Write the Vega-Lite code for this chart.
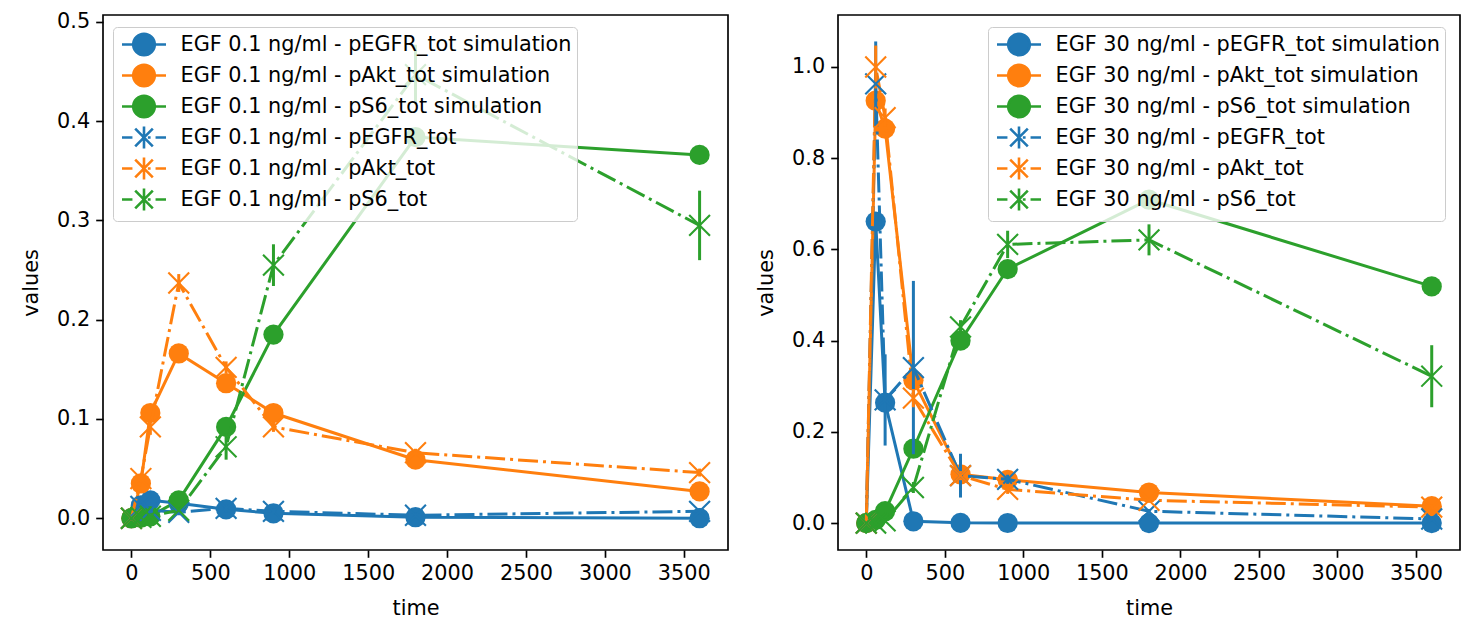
{
  "$schema": "https://vega.github.io/schema/vega-lite/v6.json",
  "background": "white",
  "padding": {"left": 19, "top": 10, "right": 10, "bottom": 5},
  "spacing": 25,
  "config": {
    "font": "DejaVu Sans",
    "view": {"stroke": "black", "strokeWidth": 1.67},
    "axis": {
      "grid": false,
      "domain": false,
      "tickColor": "black",
      "tickSize": 7.3,
      "tickWidth": 1.67,
      "labelFont": "DejaVu Sans",
      "labelFontSize": 20.8,
      "labelColor": "black",
      "labelPadding": 6,
      "titleFont": "DejaVu Sans",
      "titleFontSize": 20.8,
      "titleFontWeight": "normal",
      "titleColor": "black",
      "titlePadding": 15
    },
    "legend": {
      "orient": "none",
      "title": null,
      "labelFont": "DejaVu Sans",
      "labelFontSize": 20.8,
      "labelColor": "black",
      "labelLimit": 800,
      "padding": 5,
      "rowPadding": -2,
      "symbolSize": 484,
      "symbolStrokeWidth": 2.5,
      "symbolOffset": 13.5,
      "labelOffset": 24,
      "fillColor": "rgba(255,255,255,0.8)",
      "strokeColor": "#cccccc",
      "cornerRadius": 4
    }
  },
  "datasets": {
    "egf01": [
      {"k": "sim", "s": "EGF 0.1 ng/ml - pEGFR_tot simulation", "t": 0, "v": 0},
      {"k": "sim", "s": "EGF 0.1 ng/ml - pEGFR_tot simulation", "t": 60, "v": 0.013},
      {"k": "sim", "s": "EGF 0.1 ng/ml - pEGFR_tot simulation", "t": 120, "v": 0.018},
      {"k": "sim", "s": "EGF 0.1 ng/ml - pEGFR_tot simulation", "t": 300, "v": 0.015},
      {"k": "sim", "s": "EGF 0.1 ng/ml - pEGFR_tot simulation", "t": 600, "v": 0.009},
      {"k": "sim", "s": "EGF 0.1 ng/ml - pEGFR_tot simulation", "t": 900, "v": 0.005},
      {"k": "sim", "s": "EGF 0.1 ng/ml - pEGFR_tot simulation", "t": 1800, "v": 0.001},
      {"k": "sim", "s": "EGF 0.1 ng/ml - pEGFR_tot simulation", "t": 3600, "v": 0.0},
      {"k": "sim", "s": "EGF 0.1 ng/ml - pAkt_tot simulation", "t": 0, "v": 0},
      {"k": "sim", "s": "EGF 0.1 ng/ml - pAkt_tot simulation", "t": 60, "v": 0.035},
      {"k": "sim", "s": "EGF 0.1 ng/ml - pAkt_tot simulation", "t": 120, "v": 0.106},
      {"k": "sim", "s": "EGF 0.1 ng/ml - pAkt_tot simulation", "t": 300, "v": 0.166},
      {"k": "sim", "s": "EGF 0.1 ng/ml - pAkt_tot simulation", "t": 600, "v": 0.136},
      {"k": "sim", "s": "EGF 0.1 ng/ml - pAkt_tot simulation", "t": 900, "v": 0.106},
      {"k": "sim", "s": "EGF 0.1 ng/ml - pAkt_tot simulation", "t": 1800, "v": 0.059},
      {"k": "sim", "s": "EGF 0.1 ng/ml - pAkt_tot simulation", "t": 3600, "v": 0.027},
      {"k": "sim", "s": "EGF 0.1 ng/ml - pS6_tot simulation", "t": 0, "v": 0},
      {"k": "sim", "s": "EGF 0.1 ng/ml - pS6_tot simulation", "t": 60, "v": 0.0005},
      {"k": "sim", "s": "EGF 0.1 ng/ml - pS6_tot simulation", "t": 120, "v": 0.002},
      {"k": "sim", "s": "EGF 0.1 ng/ml - pS6_tot simulation", "t": 300, "v": 0.018},
      {"k": "sim", "s": "EGF 0.1 ng/ml - pS6_tot simulation", "t": 600, "v": 0.092},
      {"k": "sim", "s": "EGF 0.1 ng/ml - pS6_tot simulation", "t": 900, "v": 0.185},
      {"k": "sim", "s": "EGF 0.1 ng/ml - pS6_tot simulation", "t": 1800, "v": 0.384},
      {"k": "sim", "s": "EGF 0.1 ng/ml - pS6_tot simulation", "t": 3600, "v": 0.366},
      {"k": "obs", "s": "EGF 0.1 ng/ml - pEGFR_tot", "t": 0, "v": 0, "e": 0.002},
      {"k": "obs", "s": "EGF 0.1 ng/ml - pEGFR_tot", "t": 60, "v": 0.012, "e": 0.003},
      {"k": "obs", "s": "EGF 0.1 ng/ml - pEGFR_tot", "t": 120, "v": 0.008, "e": 0.003},
      {"k": "obs", "s": "EGF 0.1 ng/ml - pEGFR_tot", "t": 300, "v": 0.006, "e": 0.003},
      {"k": "obs", "s": "EGF 0.1 ng/ml - pEGFR_tot", "t": 600, "v": 0.010, "e": 0.004},
      {"k": "obs", "s": "EGF 0.1 ng/ml - pEGFR_tot", "t": 900, "v": 0.007, "e": 0.003},
      {"k": "obs", "s": "EGF 0.1 ng/ml - pEGFR_tot", "t": 1800, "v": 0.003, "e": 0.003},
      {"k": "obs", "s": "EGF 0.1 ng/ml - pEGFR_tot", "t": 3600, "v": 0.007, "e": 0.003},
      {"k": "obs", "s": "EGF 0.1 ng/ml - pAkt_tot", "t": 0, "v": 0, "e": 0.002},
      {"k": "obs", "s": "EGF 0.1 ng/ml - pAkt_tot", "t": 60, "v": 0.040, "e": 0.004},
      {"k": "obs", "s": "EGF 0.1 ng/ml - pAkt_tot", "t": 120, "v": 0.092, "e": 0.008},
      {"k": "obs", "s": "EGF 0.1 ng/ml - pAkt_tot", "t": 300, "v": 0.237, "e": 0.009},
      {"k": "obs", "s": "EGF 0.1 ng/ml - pAkt_tot", "t": 600, "v": 0.152, "e": 0.006},
      {"k": "obs", "s": "EGF 0.1 ng/ml - pAkt_tot", "t": 900, "v": 0.092, "e": 0.005},
      {"k": "obs", "s": "EGF 0.1 ng/ml - pAkt_tot", "t": 1800, "v": 0.066, "e": 0.004},
      {"k": "obs", "s": "EGF 0.1 ng/ml - pAkt_tot", "t": 3600, "v": 0.046, "e": 0.004},
      {"k": "obs", "s": "EGF 0.1 ng/ml - pS6_tot", "t": 0, "v": 0, "e": 0.002},
      {"k": "obs", "s": "EGF 0.1 ng/ml - pS6_tot", "t": 60, "v": 0.001, "e": 0.002},
      {"k": "obs", "s": "EGF 0.1 ng/ml - pS6_tot", "t": 120, "v": 0.002, "e": 0.002},
      {"k": "obs", "s": "EGF 0.1 ng/ml - pS6_tot", "t": 300, "v": 0.008, "e": 0.003},
      {"k": "obs", "s": "EGF 0.1 ng/ml - pS6_tot", "t": 600, "v": 0.072, "e": 0.013},
      {"k": "obs", "s": "EGF 0.1 ng/ml - pS6_tot", "t": 900, "v": 0.255, "e": 0.021},
      {"k": "obs", "s": "EGF 0.1 ng/ml - pS6_tot", "t": 1800, "v": 0.447, "e": 0.03},
      {"k": "obs", "s": "EGF 0.1 ng/ml - pS6_tot", "t": 3600, "v": 0.295, "e": 0.035}
    ],
    "egf30": [
      {"k": "sim", "s": "EGF 30 ng/ml - pEGFR_tot simulation", "t": 0, "v": 0},
      {"k": "sim", "s": "EGF 30 ng/ml - pEGFR_tot simulation", "t": 60, "v": 0.661},
      {"k": "sim", "s": "EGF 30 ng/ml - pEGFR_tot simulation", "t": 120, "v": 0.264},
      {"k": "sim", "s": "EGF 30 ng/ml - pEGFR_tot simulation", "t": 300, "v": 0.004},
      {"k": "sim", "s": "EGF 30 ng/ml - pEGFR_tot simulation", "t": 600, "v": 0.0005},
      {"k": "sim", "s": "EGF 30 ng/ml - pEGFR_tot simulation", "t": 900, "v": 0.0002},
      {"k": "sim", "s": "EGF 30 ng/ml - pEGFR_tot simulation", "t": 1800, "v": 0},
      {"k": "sim", "s": "EGF 30 ng/ml - pEGFR_tot simulation", "t": 3600, "v": 0},
      {"k": "sim", "s": "EGF 30 ng/ml - pAkt_tot simulation", "t": 0, "v": 0},
      {"k": "sim", "s": "EGF 30 ng/ml - pAkt_tot simulation", "t": 60, "v": 0.926},
      {"k": "sim", "s": "EGF 30 ng/ml - pAkt_tot simulation", "t": 120, "v": 0.865},
      {"k": "sim", "s": "EGF 30 ng/ml - pAkt_tot simulation", "t": 300, "v": 0.313},
      {"k": "sim", "s": "EGF 30 ng/ml - pAkt_tot simulation", "t": 600, "v": 0.107},
      {"k": "sim", "s": "EGF 30 ng/ml - pAkt_tot simulation", "t": 900, "v": 0.095},
      {"k": "sim", "s": "EGF 30 ng/ml - pAkt_tot simulation", "t": 1800, "v": 0.067},
      {"k": "sim", "s": "EGF 30 ng/ml - pAkt_tot simulation", "t": 3600, "v": 0.037},
      {"k": "sim", "s": "EGF 30 ng/ml - pS6_tot simulation", "t": 0, "v": 0},
      {"k": "sim", "s": "EGF 30 ng/ml - pS6_tot simulation", "t": 60, "v": 0.007},
      {"k": "sim", "s": "EGF 30 ng/ml - pS6_tot simulation", "t": 120, "v": 0.026},
      {"k": "sim", "s": "EGF 30 ng/ml - pS6_tot simulation", "t": 300, "v": 0.163},
      {"k": "sim", "s": "EGF 30 ng/ml - pS6_tot simulation", "t": 600, "v": 0.400},
      {"k": "sim", "s": "EGF 30 ng/ml - pS6_tot simulation", "t": 900, "v": 0.557},
      {"k": "sim", "s": "EGF 30 ng/ml - pS6_tot simulation", "t": 1800, "v": 0.709},
      {"k": "sim", "s": "EGF 30 ng/ml - pS6_tot simulation", "t": 3600, "v": 0.519},
      {"k": "obs", "s": "EGF 30 ng/ml - pEGFR_tot", "t": 0, "v": 0, "e": 0.003},
      {"k": "obs", "s": "EGF 30 ng/ml - pEGFR_tot", "t": 60, "v": 0.963, "e": 0.093},
      {"k": "obs", "s": "EGF 30 ng/ml - pEGFR_tot", "t": 120, "v": 0.270, "e": 0.1},
      {"k": "obs", "s": "EGF 30 ng/ml - pEGFR_tot", "t": 300, "v": 0.341, "e": 0.19},
      {"k": "obs", "s": "EGF 30 ng/ml - pEGFR_tot", "t": 600, "v": 0.104, "e": 0.048},
      {"k": "obs", "s": "EGF 30 ng/ml - pEGFR_tot", "t": 900, "v": 0.096, "e": 0.01},
      {"k": "obs", "s": "EGF 30 ng/ml - pEGFR_tot", "t": 1800, "v": 0.026, "e": 0.005},
      {"k": "obs", "s": "EGF 30 ng/ml - pEGFR_tot", "t": 3600, "v": 0.009, "e": 0.005},
      {"k": "obs", "s": "EGF 30 ng/ml - pAkt_tot", "t": 0, "v": 0, "e": 0.003},
      {"k": "obs", "s": "EGF 30 ng/ml - pAkt_tot", "t": 60, "v": 1.0, "e": 0.047},
      {"k": "obs", "s": "EGF 30 ng/ml - pAkt_tot", "t": 120, "v": 0.889, "e": 0.02},
      {"k": "obs", "s": "EGF 30 ng/ml - pAkt_tot", "t": 300, "v": 0.274, "e": 0.02},
      {"k": "obs", "s": "EGF 30 ng/ml - pAkt_tot", "t": 600, "v": 0.104, "e": 0.01},
      {"k": "obs", "s": "EGF 30 ng/ml - pAkt_tot", "t": 900, "v": 0.074, "e": 0.01},
      {"k": "obs", "s": "EGF 30 ng/ml - pAkt_tot", "t": 1800, "v": 0.050, "e": 0.005},
      {"k": "obs", "s": "EGF 30 ng/ml - pAkt_tot", "t": 3600, "v": 0.035, "e": 0.005},
      {"k": "obs", "s": "EGF 30 ng/ml - pS6_tot", "t": 0, "v": 0, "e": 0.003},
      {"k": "obs", "s": "EGF 30 ng/ml - pS6_tot", "t": 60, "v": 0.0, "e": 0.003},
      {"k": "obs", "s": "EGF 30 ng/ml - pS6_tot", "t": 120, "v": 0.005, "e": 0.005},
      {"k": "obs", "s": "EGF 30 ng/ml - pS6_tot", "t": 300, "v": 0.078, "e": 0.012},
      {"k": "obs", "s": "EGF 30 ng/ml - pS6_tot", "t": 600, "v": 0.430, "e": 0.015},
      {"k": "obs", "s": "EGF 30 ng/ml - pS6_tot", "t": 900, "v": 0.611, "e": 0.03},
      {"k": "obs", "s": "EGF 30 ng/ml - pS6_tot", "t": 1800, "v": 0.621, "e": 0.034},
      {"k": "obs", "s": "EGF 30 ng/ml - pS6_tot", "t": 3600, "v": 0.322, "e": 0.068}
    ]
  },
  "resolve": {
    "scale": {"x": "independent", "y": "independent", "color": "independent"},
    "legend": {"color": "independent"}
  },
  "hconcat": [
    {
      "width": 625,
      "height": 535,
      "data": {"name": "egf01"},
      "encoding": {
        "x": {"field": "t", "type": "quantitative", "title": "time",
              "scale": {"domain": [-180, 3780], "nice": false, "zero": false},
              "axis": {"values": [0, 500, 1000, 1500, 2000, 2500, 3000, 3500], "format": "d"}},
        "y": {"field": "v", "type": "quantitative", "title": "values",
              "scale": {"domain": [-0.032, 0.507], "nice": false, "zero": false},
              "axis": {"values": [0, 0.1, 0.2, 0.3, 0.4, 0.5], "format": ".1f"}},
        "color": {"field": "s", "type": "nominal",
          "scale": {
            "domain": ["EGF 0.1 ng/ml - pEGFR_tot simulation", "EGF 0.1 ng/ml - pAkt_tot simulation", "EGF 0.1 ng/ml - pS6_tot simulation", "EGF 0.1 ng/ml - pEGFR_tot", "EGF 0.1 ng/ml - pAkt_tot", "EGF 0.1 ng/ml - pS6_tot"],
            "range": ["#1f77b4", "#ff7f0e", "#2ca02c", "#1f77b4", "#ff7f0e", "#2ca02c"]
          },
          "legend": {
            "legendX": 10,
            "legendY": 12,
            "encode": {
              "symbols": {
                "update": {
                  "shape": {"signal": "indexof(datum.value, 'simulation') >= 0 ? 'M-2,0L-0.98,0M0.98,0L2,0M-0.98,0A0.98,0.98 0 1,1 0.98,0A0.98,0.98 0 1,1 -0.98,0Z' : 'M-2,0L-1.05,0M-0.8,-0.8L0.8,0.8M-0.8,0.8L0.8,-0.8M0,-1L0,1M0.35,0L0.6,0M1.05,0L2,0'"},
                  "fill": {"signal": "indexof(datum.value, 'pEGFR') >= 0 ? '#1f77b4' : indexof(datum.value, 'pAkt') >= 0 ? '#ff7f0e' : '#2ca02c'"},
                  "stroke": {"signal": "indexof(datum.value, 'pEGFR') >= 0 ? '#1f77b4' : indexof(datum.value, 'pAkt') >= 0 ? '#ff7f0e' : '#2ca02c'"},
                  "strokeWidth": {"value": 2.6},
                  "strokeDash": {"value": []},
                  "opacity": {"value": 1},
                  "size": {"value": 484}
                }
              }
            }
          }
        }
      },
      "layer": [
        {"transform": [{"filter": "datum.k == 'sim'"}], "mark": {"type": "line", "strokeWidth": 3}},
        {"transform": [{"filter": "datum.k == 'sim'"}], "mark": {"type": "circle", "size": 410, "opacity": 1}},
        {"transform": [{"filter": "datum.k == 'obs'"}], "mark": {"type": "line", "strokeWidth": 3, "strokeDash": [20, 5, 3, 5]}},
        {"transform": [{"filter": "datum.k == 'obs'"}], "mark": {"type": "errorbar", "thickness": 3},
         "encoding": {"yError": {"field": "e"}}},
        {"transform": [{"filter": "datum.k == 'obs'"}], "mark": {"type": "point", "shape": "M-1,-1L1,1M-1,1L1,-1", "size": 433, "filled": false, "strokeWidth": 2.1, "opacity": 1}}
      ]
    },
    {
      "width": 622,
      "height": 535,
      "data": {"name": "egf30"},
      "encoding": {
        "x": {"field": "t", "type": "quantitative", "title": "time",
              "scale": {"domain": [-180, 3780], "nice": false, "zero": false},
              "axis": {"values": [0, 500, 1000, 1500, 2000, 2500, 3000, 3500], "format": "d"}},
        "y": {"field": "v", "type": "quantitative", "title": "values",
              "scale": {"domain": [-0.059, 1.114], "nice": false, "zero": false},
              "axis": {"values": [0, 0.2, 0.4, 0.6, 0.8, 1.0], "format": ".1f"}},
        "color": {"field": "s", "type": "nominal",
          "scale": {
            "domain": ["EGF 30 ng/ml - pEGFR_tot simulation", "EGF 30 ng/ml - pAkt_tot simulation", "EGF 30 ng/ml - pS6_tot simulation", "EGF 30 ng/ml - pEGFR_tot", "EGF 30 ng/ml - pAkt_tot", "EGF 30 ng/ml - pS6_tot"],
            "range": ["#1f77b4", "#ff7f0e", "#2ca02c", "#1f77b4", "#ff7f0e", "#2ca02c"]
          },
          "legend": {
            "legendX": 150,
            "legendY": 12,
            "encode": {
              "symbols": {
                "update": {
                  "shape": {"signal": "indexof(datum.value, 'simulation') >= 0 ? 'M-2,0L-0.98,0M0.98,0L2,0M-0.98,0A0.98,0.98 0 1,1 0.98,0A0.98,0.98 0 1,1 -0.98,0Z' : 'M-2,0L-1.05,0M-0.8,-0.8L0.8,0.8M-0.8,0.8L0.8,-0.8M0,-1L0,1M0.35,0L0.6,0M1.05,0L2,0'"},
                  "fill": {"signal": "indexof(datum.value, 'pEGFR') >= 0 ? '#1f77b4' : indexof(datum.value, 'pAkt') >= 0 ? '#ff7f0e' : '#2ca02c'"},
                  "stroke": {"signal": "indexof(datum.value, 'pEGFR') >= 0 ? '#1f77b4' : indexof(datum.value, 'pAkt') >= 0 ? '#ff7f0e' : '#2ca02c'"},
                  "strokeWidth": {"value": 2.6},
                  "strokeDash": {"value": []},
                  "opacity": {"value": 1},
                  "size": {"value": 484}
                }
              }
            }
          }
        }
      },
      "layer": [
        {"transform": [{"filter": "datum.k == 'sim'"}], "mark": {"type": "line", "strokeWidth": 3}},
        {"transform": [{"filter": "datum.k == 'sim'"}], "mark": {"type": "circle", "size": 410, "opacity": 1}},
        {"transform": [{"filter": "datum.k == 'obs'"}], "mark": {"type": "line", "strokeWidth": 3, "strokeDash": [20, 5, 3, 5]}},
        {"transform": [{"filter": "datum.k == 'obs'"}], "mark": {"type": "errorbar", "thickness": 3},
         "encoding": {"yError": {"field": "e"}}},
        {"transform": [{"filter": "datum.k == 'obs'"}], "mark": {"type": "point", "shape": "M-1,-1L1,1M-1,1L1,-1", "size": 433, "filled": false, "strokeWidth": 2.1, "opacity": 1}}
      ]
    }
  ]
}
